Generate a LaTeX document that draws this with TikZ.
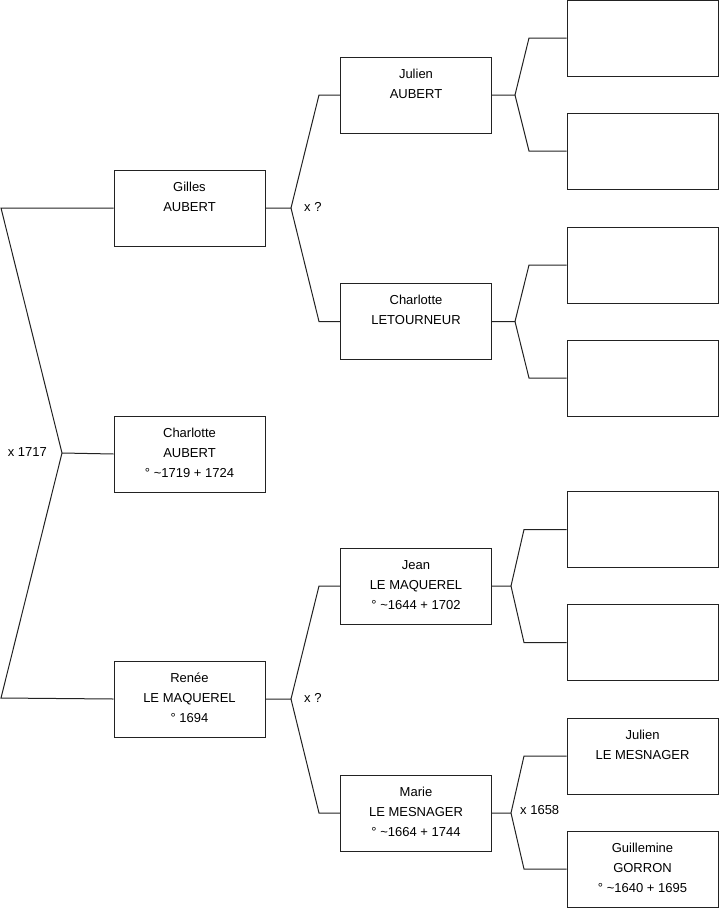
\documentclass[tikz,border=0pt]{standalone}
\usepackage{fontspec}
\setmainfont{Liberation Sans}
\usepackage{tikz}
\usetikzlibrary{positioning,calc}
\definecolor{LineGrey}{HTML}{222222}
\tikzset{
  PB/.style={rectangle,draw=LineGrey,line width=1pt,inner sep=0pt,
             minimum width=151pt,minimum height=76pt},
  ln/.style={draw=LineGrey,line width=1pt},
  LX/.style={font=\fontsize{13}{15}\selectfont,inner sep=0pt,anchor=west}
}
\newcommand{\ptext}[1]{\parbox[c][76pt][t]{151pt}{\centering\fontsize{13}{20}\selectfont\rule{0pt}{21pt}#1}}

\begin{document}
\begin{tikzpicture}[x=1pt,y=-1pt]
  \useasboundingbox (0,0) rectangle (719,908);
  % generation 1
  \node[PB] (gilles) at (189.5,208) {\ptext{Gilles\\AUBERT}};
  \node[PB] (charlotte) at (189.5,454) {\ptext{Charlotte\\AUBERT\\\textdegree{} \textasciitilde1719 + 1724}};
  \node[PB] (renee) at (189.5,699) {\ptext{Renée\\LE MAQUEREL\\\textdegree{} 1694}};
  % generation 2
  \node[PB] (julien) at (416,95) {\ptext{Julien\\AUBERT}};
  \node[PB] (letourneur) at (416,321.5) {\ptext{Charlotte\\LETOURNEUR}};
  \node[PB] (jean) at (416,586) {\ptext{Jean\\LE MAQUEREL\\\textdegree{} \textasciitilde1644 + 1702}};
  \node[PB] (marie) at (416,813) {\ptext{Marie\\LE MESNAGER\\\textdegree{} \textasciitilde1664 + 1744}};
  % generation 3
  \node[PB] (p1) at (642.5,38) {};
  \node[PB] (p2) at (642.5,151) {};
  \node[PB] (p3) at (642.5,265) {};
  \node[PB] (p4) at (642.5,378) {};
  \node[PB] (p5) at (642.5,529.5) {};
  \node[PB] (p6) at (642.5,642.5) {};
  \node[PB] (mesnager) at (642.5,756) {\ptext{Julien\\LE MESNAGER}};
  \node[PB] (gorron) at (642.5,869) {\ptext{Guillemine\\GORRON\\\textdegree{} \textasciitilde1640 + 1695}};

  % forks
  \coordinate (c0) at (62,453);
  \coordinate (c0a) at (1,208);
  \coordinate (c0b) at (1,698);
  \draw[ln] (gilles.west) -- (c0a) -- (c0) -- (c0b) -- (renee.west);
  \draw[ln] (c0) -- (charlotte.west);
  \node[LX,anchor=east] (m0) at ($(c0)+(-15,-1)$) {x 1717};

  \coordinate (c1) at (291,208);
  \draw[ln] (gilles.east) -- (c1) -- (319,95) -- (julien.west);
  \draw[ln] (c1) -- (319,321.5) -- (letourneur.west);
  \node[LX] (m1) at ($(c1)+(13,-1)$) {x ?};

  \coordinate (c2) at (291,699);
  \draw[ln] (renee.east) -- (c2) -- (319,586) -- (jean.west);
  \draw[ln] (c2) -- (319,813) -- (marie.west);
  \node[LX] (m2) at ($(c2)+(13,-1)$) {x ?};

  \coordinate (c3) at (515,95);
  \draw[ln] (julien.east) -- (c3) -- (529,38) -- (p1.west);
  \draw[ln] (c3) -- (529,151) -- (p2.west);

  \coordinate (c4) at (515,321.5);
  \draw[ln] (letourneur.east) -- (c4) -- (529,265) -- (p3.west);
  \draw[ln] (c4) -- (529,378) -- (p4.west);

  \coordinate (c5) at (511,586);
  \draw[ln] (jean.east) -- (c5) -- (524,529.5) -- (p5.west);
  \draw[ln] (c5) -- (524,642.5) -- (p6.west);

  \coordinate (c6) at (511,813);
  \draw[ln] (marie.east) -- (c6) -- (524,756) -- (mesnager.west);
  \draw[ln] (c6) -- (524,869) -- (gorron.west);
  \node[LX] (m3) at ($(c6)+(9,-3)$) {x 1658};
\end{tikzpicture}
\end{document}
